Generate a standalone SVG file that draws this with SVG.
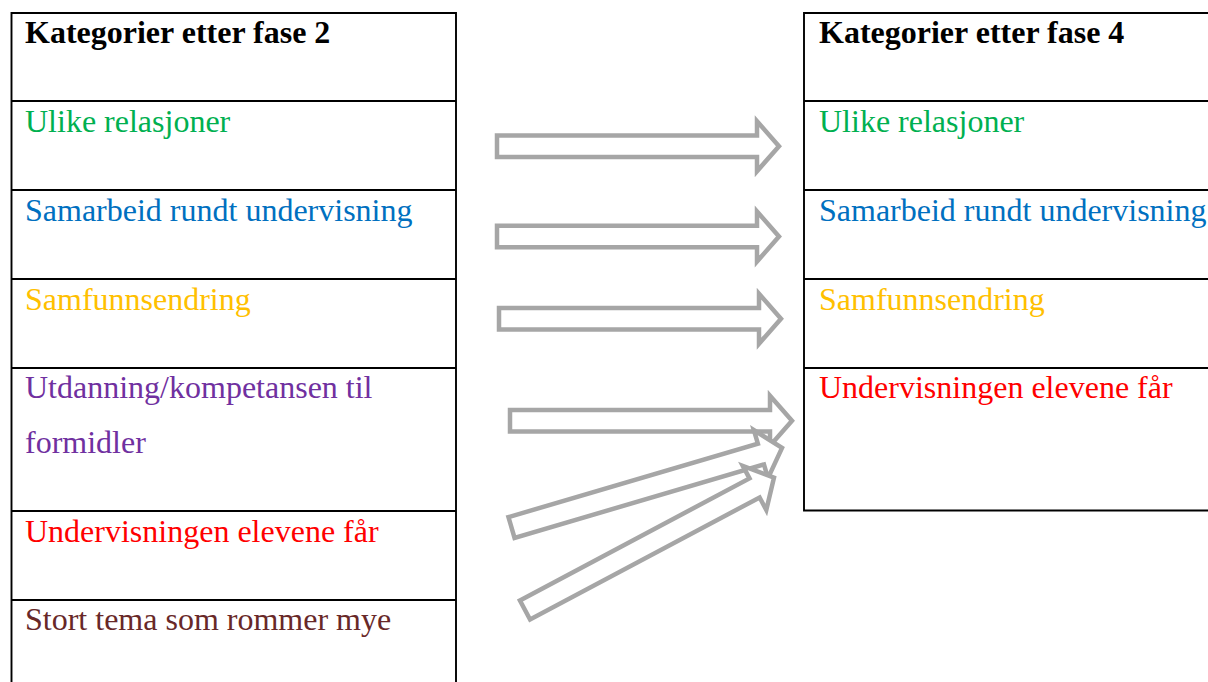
<svg xmlns="http://www.w3.org/2000/svg" width="1208" height="682" viewBox="0 0 1208 682">
<style>
.ln{stroke:#000;stroke-width:1.9;fill:none}
.t{font-family:"Liberation Serif","Times New Roman",serif;font-size:32px}
.h{font-weight:bold;fill:#000}
.arr{fill:#fff;stroke:#A6A6A6;stroke-width:4.5;stroke-linejoin:miter}
.g{fill:#00B050}.b{fill:#0070C0}.y{fill:#FFC000}.p{fill:#7030A0}.r{fill:#FF0000}.br{fill:#682828}
</style>
<defs>
<polygon id="ar" points="0,-10.8 260,-10.8 260,-25 282,0 260,25 260,10.8 0,10.8"/>
</defs>
<rect width="1208" height="682" fill="#fff"/>
<g id="table-left">
<path class="ln" d="M11.5,13 H456 M11.5,101 H456 M11.5,190 H456 M11.5,279 H456 M11.5,368 H456 M11.5,511 H456 M11.5,600 H456 M11.5,12 V682 M456,12 V682"/>
</g>
<g id="table-right">
<path class="ln" d="M804,13 H1208 M804,101 H1208 M804,190 H1208 M804,279 H1208 M804,368 H1208 M804,510.5 H1208 M804,12 V511.5"/>
</g>
<g id="l-header"><text class="t h" x="25" y="43">Kategorier etter fase 2</text></g>
<g id="l-ulike"><text class="t g" x="25" y="132">Ulike relasjoner</text></g>
<g id="l-samarbeid"><text class="t b" x="25" y="221">Samarbeid rundt undervisning</text></g>
<g id="l-samfunn"><text class="t y" x="25" y="310">Samfunnsendring</text></g>
<g id="l-utdanning"><text class="t p" x="25" y="398">Utdanning/kompetansen til</text><text class="t p" x="25" y="453">formidler</text></g>
<g id="l-undervisning"><text class="t r" x="25" y="542">Undervisningen elevene får</text></g>
<g id="l-stort"><text class="t br" x="25" y="630">Stort tema som rommer mye</text></g>
<g id="r-header"><text class="t h" x="819" y="43">Kategorier etter fase 4</text></g>
<g id="r-ulike"><text class="t g" x="819" y="132">Ulike relasjoner</text></g>
<g id="r-samarbeid"><text class="t b" x="819" y="221">Samarbeid rundt undervisning</text></g>
<g id="r-samfunn"><text class="t y" x="819" y="310">Samfunnsendring</text></g>
<g id="r-undervisning"><text class="t r" x="819" y="398">Undervisningen elevene får</text></g>
<g id="connectors">
<use href="#ar" class="arr" transform="translate(497,146.2)"/>
<use href="#ar" class="arr" transform="translate(497,236.5)"/>
<use href="#ar" class="arr" transform="translate(499,318.7)"/>
<use href="#ar" class="arr" transform="translate(510,420.8)"/>
<use href="#ar" class="arr" transform="translate(511.5,527.5) rotate(-16.4)"/>
<use href="#ar" class="arr" transform="translate(525,610) rotate(-28)"/>
</g>
</svg>
